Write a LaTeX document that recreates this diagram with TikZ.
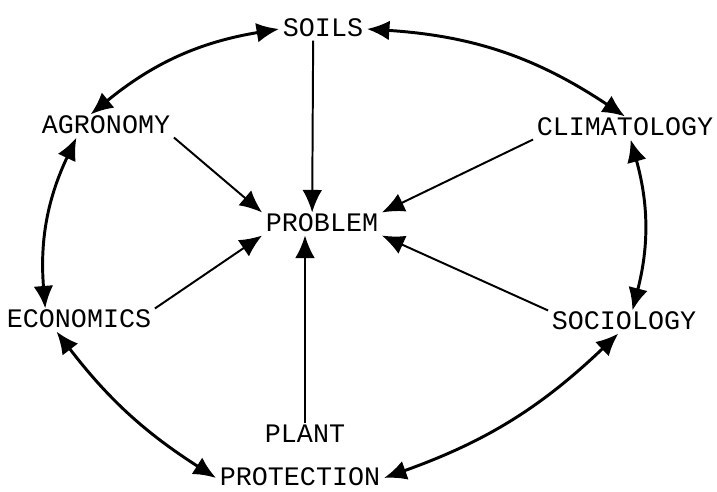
\documentclass[tikz,border=0pt]{standalone}
\usepackage{fontspec}
\setmonofont{Liberation Mono}
\usetikzlibrary{arrows.meta,positioning}

\begin{document}
\begin{tikzpicture}[x=0.025cm,y=0.025cm,
    field/.style={font=\ttfamily\fontsize{19}{20}\selectfont, text height=11pt, text depth=0pt, inner sep=2.5pt},
    feed/.style={-{Latex[length=16pt,width=14pt]}, line width=1.4pt},
    link/.style={{Latex[length=16pt,width=14pt]}-{Latex[length=16pt,width=14pt]}, line width=2.1pt}]
  \useasboundingbox (0,0) rectangle (717,492);

  % Subject fields round the central problem
  \node[field] (prob) at (322,268) {PROBLEM};
  \node[field] (soils) at (323,463) {SOILS};
  \node[field] (agro) at (106,366) {AGRONOMY};
  \node[field] (clim) at (625,364) {CLIMATOLOGY};
  \node[field] (econ) at (79,172) {ECONOMICS};
  \node[field] (soc) at (624,170) {SOCIOLOGY};
  \node[field] (plant) at (305,57) {PLANT};
  \node[field] (prot) at (300,14) {PROTECTION};

  % Arrows into the problem
  \draw[feed] ([xshift=-7pt]soils.south) -- ([xshift=-7pt]prob.north);
  \draw[feed] (agro.south east) -- (prob.north west);
  \draw[feed] (clim.south west) -- (prob.north east);
  \draw[feed] (econ.north east) -- (prob.south west);
  \draw[feed] (soc.north west) -- (prob.south east);
  \draw[feed] (plant.north) -- (plant.north |- prob.south);

  % Outer ring of two-way links
  \draw[link] (soils.west) to[bend right=15] ([xshift=-11pt]agro.north);
  \draw[link] (soils.east) to[bend left=15] (clim.north);
  \draw[link] ([xshift=-21pt]agro.south) to[bend right=15] ([xshift=-24pt]econ.north);
  \draw[link] ([xshift=4pt]clim.south) to[bend left=15] ([xshift=6pt]soc.north);
  \draw[link] ([xshift=-16pt]econ.south) to[bend right=10] (prot.west);
  \draw[link] (prot.east) to[bend right=12] ([xshift=-4pt]soc.south);
\end{tikzpicture}
\end{document}
